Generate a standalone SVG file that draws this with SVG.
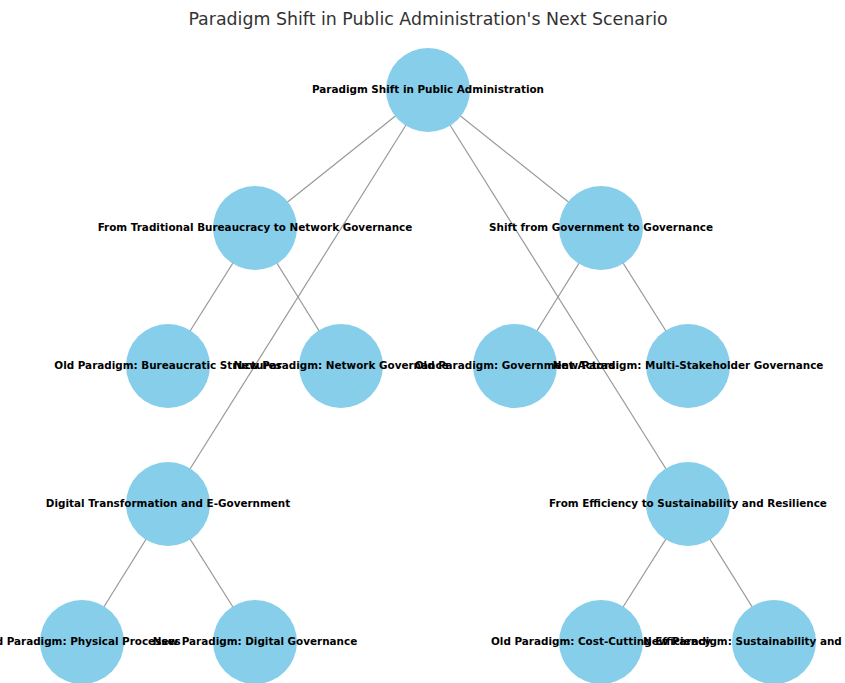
<svg xmlns="http://www.w3.org/2000/svg" width="845" height="683" viewBox="0 0 845 683">
<style>
.edge{stroke:#999999;stroke-width:1.2;fill:none}
.node circle{fill:#87CEEB;stroke:none}
.node text{font-family:"DejaVu Sans",sans-serif;font-weight:bold;font-size:10.4px;fill:#000;text-anchor:middle;dominant-baseline:central}
.title{font-family:"DejaVu Sans",sans-serif;font-size:17.4px;fill:#333333;text-anchor:middle}
</style>
<rect width="845" height="683" fill="#ffffff"/>
<text class="title" x="428" y="25">Paradigm Shift in Public Administration's Next Scenario</text>
<g id="edges">
<line class="edge" x1="428" y1="90" x2="255" y2="228"/>
<line class="edge" x1="428" y1="90" x2="601" y2="228"/>
<line class="edge" x1="428" y1="90" x2="168" y2="504"/>
<line class="edge" x1="428" y1="90" x2="688" y2="504"/>
<line class="edge" x1="255" y1="228" x2="168" y2="366"/>
<line class="edge" x1="255" y1="228" x2="341" y2="366"/>
<line class="edge" x1="601" y1="228" x2="515" y2="366"/>
<line class="edge" x1="601" y1="228" x2="688" y2="366"/>
<line class="edge" x1="168" y1="504" x2="82" y2="642"/>
<line class="edge" x1="168" y1="504" x2="255" y2="642"/>
<line class="edge" x1="688" y1="504" x2="601" y2="642"/>
<line class="edge" x1="688" y1="504" x2="774" y2="642"/>
</g>
<g id="circles">
<g class="node" id="n-root"><circle cx="428" cy="90" r="42"/></g>
<g class="node" id="n-bureau"><circle cx="255" cy="228" r="42"/></g>
<g class="node" id="n-gov"><circle cx="601" cy="228" r="42"/></g>
<g class="node" id="n-old-bureau"><circle cx="168" cy="366" r="42"/></g>
<g class="node" id="n-new-network"><circle cx="341" cy="366" r="42"/></g>
<g class="node" id="n-old-gov"><circle cx="515" cy="366" r="42"/></g>
<g class="node" id="n-new-multi"><circle cx="688" cy="366" r="42"/></g>
<g class="node" id="n-digital"><circle cx="168" cy="504" r="42"/></g>
<g class="node" id="n-sustain"><circle cx="688" cy="504" r="42"/></g>
<g class="node" id="n-old-physical"><circle cx="82" cy="642" r="42"/></g>
<g class="node" id="n-new-digital"><circle cx="255" cy="642" r="42"/></g>
<g class="node" id="n-old-cost"><circle cx="601" cy="642" r="42"/></g>
<g class="node" id="n-new-sustain"><circle cx="774" cy="642" r="42"/></g>
</g>
<g id="labels" class="node">
<text x="428" y="89">Paradigm Shift in Public Administration</text>
<text x="255" y="227">From Traditional Bureaucracy to Network Governance</text>
<text x="601" y="227">Shift from Government to Governance</text>
<text x="168" y="365">Old Paradigm: Bureaucratic Structures</text>
<text x="341" y="365">New Paradigm: Network Governance</text>
<text x="515" y="365">Old Paradigm: Government Actors</text>
<text x="688" y="365">New Paradigm: Multi-Stakeholder Governance</text>
<text x="168" y="503">Digital Transformation and E-Government</text>
<text x="688" y="503">From Efficiency to Sustainability and Resilience</text>
<text x="82" y="641">Old Paradigm: Physical Processes</text>
<text x="255" y="641">New Paradigm: Digital Governance</text>
<text x="601" y="641">Old Paradigm: Cost-Cutting Efficiency</text>
<text x="774" y="641">New Paradigm: Sustainability and Resilience</text>
</g>
</svg>
